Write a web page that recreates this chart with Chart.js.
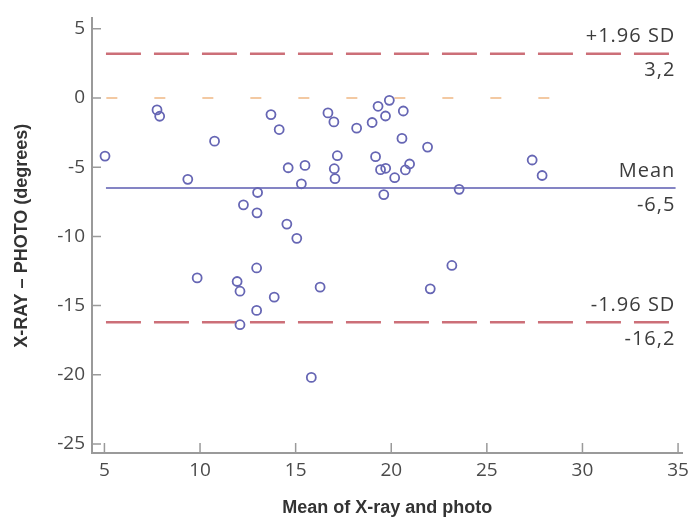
<!DOCTYPE html>
<html>
<head>
<meta charset="utf-8">
<script src="https://cdn.jsdelivr.net/npm/chart.js@4"></script>
<style>
  html, body { margin: 0; padding: 0; background: #fff; }
</style>
</head>
<body>
<canvas id="blandAltman" width="695" height="527"></canvas>
<script>
// mean of x-ray and photo / difference (x-ray - photo)
const meanValues = [
  5.03, 7.75, 7.89, 10.76, 9.36, 13.71, 14.14, 13.01, 12.27, 12.98,
  14.61, 15.49, 15.30, 16.69, 17.00, 17.18, 17.02, 17.06, 18.19, 19.00,
  19.31, 19.90, 19.70, 20.63, 20.56, 19.18, 19.44, 19.71, 20.18, 20.74,
  20.96, 19.61, 21.90, 27.37, 27.89, 23.55, 14.54, 15.06, 12.96, 9.85,
  11.94, 12.09, 13.88, 12.96, 16.28, 12.09, 15.82, 23.17, 22.04
];
const diffValues = [
  -4.20, -0.86, -1.32, -3.12, -5.88, -1.20, -2.28, -6.83, -7.72, -8.30,
  -5.04, -4.87, -6.20, -1.08, -1.73, -4.17, -5.11, -5.83, -2.18, -1.77,
  -0.60, -0.17, -1.30, -0.94, -2.92, -4.24, -5.18, -5.08, -5.76, -5.20,
  -4.77, -6.98, -3.55, -4.48, -5.60, -6.60, -9.11, -10.14, -12.28, -13.00,
  -13.26, -13.96, -14.39, -15.35, -13.67, -16.38, -20.19, -12.10, -13.79
];
const xTicks = [5, 10, 15, 20, 25, 30, 35];
const yTicks = [-25, -20, -15, -10, -5, 0, 5];
const limitNames = ['+1.96 SD', 'Mean', '-1.96 SD'];
const limitValues = [3.2, -6.5, -16.2];
const limitLabels = ['3,2', '-6,5', '-16,2'];
const zeroValue = 0;

const points = meanValues.map((m, i) => ({ x: m, y: diffValues[i] }));

function hLine(y, x0, x1) {
  return [{ x: x0, y: y }, { x: x1, y: y }];
}

const tickFont = { family: '"Open Sans", sans-serif', size: 19 };
const titleFont = { family: '"Liberation Sans", Arial, sans-serif', size: 18, weight: 'bold' };

// inward tick marks + text next to the limit lines
const axisDecor = {
  id: 'axisDecor',
  afterDatasetsDraw(chart) {
    const { ctx, chartArea } = chart;
    const xs = chart.scales.x, ys = chart.scales.y;
    ctx.save();
    ctx.strokeStyle = '#9a9a9a';
    ctx.lineWidth = 1.5;
    ctx.beginPath();
    yTicks.forEach(v => {
      const py = ys.getPixelForValue(v);
      ctx.moveTo(chartArea.left, py);
      ctx.lineTo(chartArea.left + 9, py);
    });
    xTicks.forEach(v => {
      const px = xs.getPixelForValue(v);
      ctx.moveTo(px, chartArea.bottom);
      ctx.lineTo(px, chartArea.bottom - 10);
    });
    ctx.stroke();

    ctx.fillStyle = '#3c3c3c';
    ctx.font = '20px "Open Sans", sans-serif';
    ctx.letterSpacing = '1px';
    ctx.textAlign = 'right';
    ctx.textBaseline = 'middle';
    const tx = xs.getPixelForValue(34.86);
    limitValues.forEach((v, i) => {
      const py = ys.getPixelForValue(v);
      ctx.fillText(limitNames[i], tx, py - 17);
      ctx.fillText(limitLabels[i], tx, py + 17);
    });
    ctx.restore();
  }
};

new Chart(document.getElementById('blandAltman'), {
  type: 'scatter',
  data: {
    datasets: [
      {
        type: 'line',
        data: hLine(zeroValue, 5.1, 28.3),
        borderColor: '#f3c9a2',
        borderWidth: 2,
        borderDash: [11, 37],
        pointRadius: 0,
        order: 4
      },
      {
        type: 'line',
        data: hLine(limitValues[0], 5.08, 34.56),
        borderColor: '#cc6f78',
        borderWidth: 2.5,
        borderDash: [35, 13],
        pointRadius: 0,
        order: 3
      },
      {
        type: 'line',
        data: hLine(limitValues[2], 5.08, 34.56),
        borderColor: '#cc6f78',
        borderWidth: 2.5,
        borderDash: [35, 13],
        pointRadius: 0,
        order: 3
      },
      {
        type: 'line',
        data: hLine(limitValues[1], 5.08, 34.87),
        borderColor: '#8484c4',
        borderWidth: 2,
        pointRadius: 0,
        order: 2
      },
      {
        data: points,
        pointRadius: 4.5,
        pointBorderWidth: 1.8,
        pointBorderColor: '#6666b4',
        pointBackgroundColor: 'rgba(255,255,255,0)',
        order: 1
      }
    ]
  },
  options: {
    responsive: false,
    animation: false,
    layout: { padding: { left: 0, top: 15, right: 10, bottom: 0 } },
    plugins: { legend: { display: false }, tooltip: { enabled: false } },
    scales: {
      x: {
        type: 'linear',
        min: 4.35,
        max: 35.23,
        afterBuildTicks: s => { s.ticks = xTicks.map(v => ({ value: v })); },
        afterFit: s => { s.height = 74; },
        grid: { drawOnChartArea: false, drawTicks: false },
        border: { color: '#9a9a9a', width: 2 },
        ticks: { font: tickFont, color: '#4a4a4a', padding: 6, maxRotation: 0 },
        title: {
          display: true,
          text: 'Mean of X-ray and photo',
          font: titleFont,
          color: '#333',
          padding: { top: 0, bottom: 8 }
        }
      },
      y: {
        type: 'linear',
        min: -25.65,
        max: 5.75,
        afterBuildTicks: s => { s.ticks = yTicks.map(v => ({ value: v })); },
        afterFit: s => { s.width = 92; },
        grid: { drawOnChartArea: false, drawTicks: false },
        border: { color: '#9a9a9a', width: 2 },
        ticks: { font: tickFont, color: '#4a4a4a', padding: 7 },
        title: {
          display: true,
          text: 'X-RAY – PHOTO (degrees)',
          font: titleFont,
          color: '#333',
          padding: { top: 11, bottom: 0 }
        }
      }
    }
  },
  plugins: [axisDecor]
});
</script>
</body>
</html>
